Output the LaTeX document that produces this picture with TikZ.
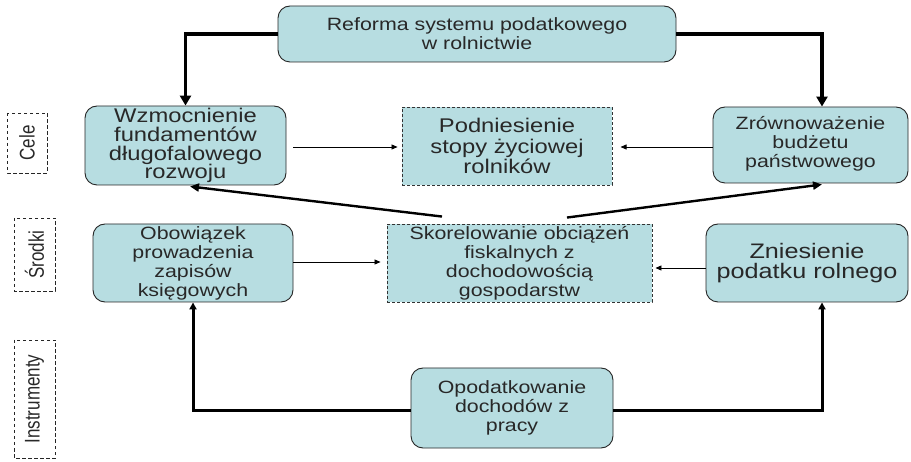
\documentclass[tikz,border=0pt]{standalone}
\usepackage{fontspec}
\setmainfont{Liberation Sans}[FakeStretch=1.2]
\newfontfamily\labfont{Liberation Sans}
\usetikzlibrary{arrows.meta,calc}
\definecolor{boxfill}{RGB}{183,221,225}
\definecolor{txt}{RGB}{40,40,40}
\newcommand{\tallrot}[1]{\scalebox{1}[1.25]{#1}}
\begin{document}
\begin{tikzpicture}[x=1pt,y=-1pt,
  box/.style={draw=black!85, line width=0.9pt, fill=boxfill, rounded corners=12pt, align=center, text=txt, inner sep=0pt},
  dbox/.style={draw=black!80, line width=0.9pt, dash pattern=on 3pt off 2pt, fill=boxfill, align=center, text=txt, inner sep=0pt},
  lab/.style={draw=black!85, line width=0.9pt, dash pattern=on 3.5pt off 2.5pt, inner sep=0pt, text=txt, font=\labfont\fontsize{17}{17}\selectfont},
  fa/.style={font=\fontsize{17.8}{19}\selectfont},
  fb/.style={font=\fontsize{19.8}{18.8}\selectfont},
  fbw/.style={font=\fontsize{19.8}{20.5}\selectfont},
  fc/.style={font=\fontsize{21}{20}\selectfont},
  thickarr/.style={line width=3.2pt, -{Triangle[length=10pt,width=11pt]}},
  thinarr/.style={line width=0.8pt, -{Triangle[length=6pt,width=5pt]}},
  diagarr/.style={line width=2.4pt, -{Triangle[length=9pt,width=8pt]}},
  botarr/.style={line width=3pt, -{Triangle[length=7pt,width=7pt]}}
]
\useasboundingbox (0,0) rectangle (911,462);

\node[box,fa,minimum width=398pt,minimum height=56pt] (top) at (477,34) {Reforma systemu podatkowego\\w rolnictwie};
\node[box,fb,minimum width=201pt,minimum height=79pt] (wz) at (185.5,145.5) {Wzmocnienie\\fundamentów\\długofalowego\\rozwoju};
\node[dbox,fbw,minimum width=210pt,minimum height=78pt] (pod) at (507,146) {Podniesienie\\stopy życiowej\\rolników};
\node[box,fa,minimum width=195pt,minimum height=76pt,text depth=6pt] (zr) at (810.5,145) {Zrównoważenie\\budżetu\\państwowego};
\node[box,fa,minimum width=200pt,minimum height=78pt] (ob) at (193,263) {Obowiązek\\prowadzenia\\zapisów\\księgowych};
\node[dbox,fa,minimum width=265pt,minimum height=78pt] (sk) at (519.5,263) {Skorelowanie obciążeń\\fiskalnych z\\dochodowością\\gospodarstw};
\node[box,fc,minimum width=202pt,minimum height=78pt] (zn) at (807,263) {Zniesienie\\podatku rolnego};
\node[box,fa,minimum width=202pt,minimum height=80pt] (op) at (512,408) {Opodatkowanie\\dochodów z\\pracy};

\node[lab,rotate=90,minimum width=60pt,minimum height=40pt] (cele) at (27,143) {\tallrot{Cele}};
\node[lab,rotate=90,minimum width=73pt,minimum height=41pt] (srodki) at (34.5,254.5) {\tallrot{Środki}};
\node[lab,rotate=90,minimum width=118pt,minimum height=41pt] (instr) at (34.5,399) {\tallrot{Instrumenty}};

\draw[thickarr] (top.west) -| (wz.north);
\draw[thickarr] (top.east) -| ($(zr.north)+(11.5,0)$);

\draw[thinarr,shorten <=7pt,shorten >=4pt] ($(wz.east)+(0,1.5)$) -- ($(pod.west)+(0,1)$);
\draw[thinarr,shorten >=9pt] ($(zr.west)+(0,2)$) -- ($(pod.west)+(210,1)$);
\draw[thinarr,shorten >=6pt] ($(ob.east)+(0,-1)$) -- ($(sk.west)+(0,-1)$);
\draw[thinarr,shorten >=3pt] ($(zn.west)+(0,5)$) -- ($(sk.east)+(0,5)$);

\draw[diagarr] ($(sk.north)+(-77.5,-7)$) -- ($(wz.south)+(4.5,1)$);
\draw[diagarr] ($(sk.north)+(47.5,-6)$) -- ($(zr.south)+(11.5,1)$);

\draw[botarr] ($(op.west)+(0,3)$) -| (ob.south);
\draw[botarr] ($(op.east)+(0,3)$) -| ($(zn.south)+(15,0)$);
\end{tikzpicture}
\end{document}
